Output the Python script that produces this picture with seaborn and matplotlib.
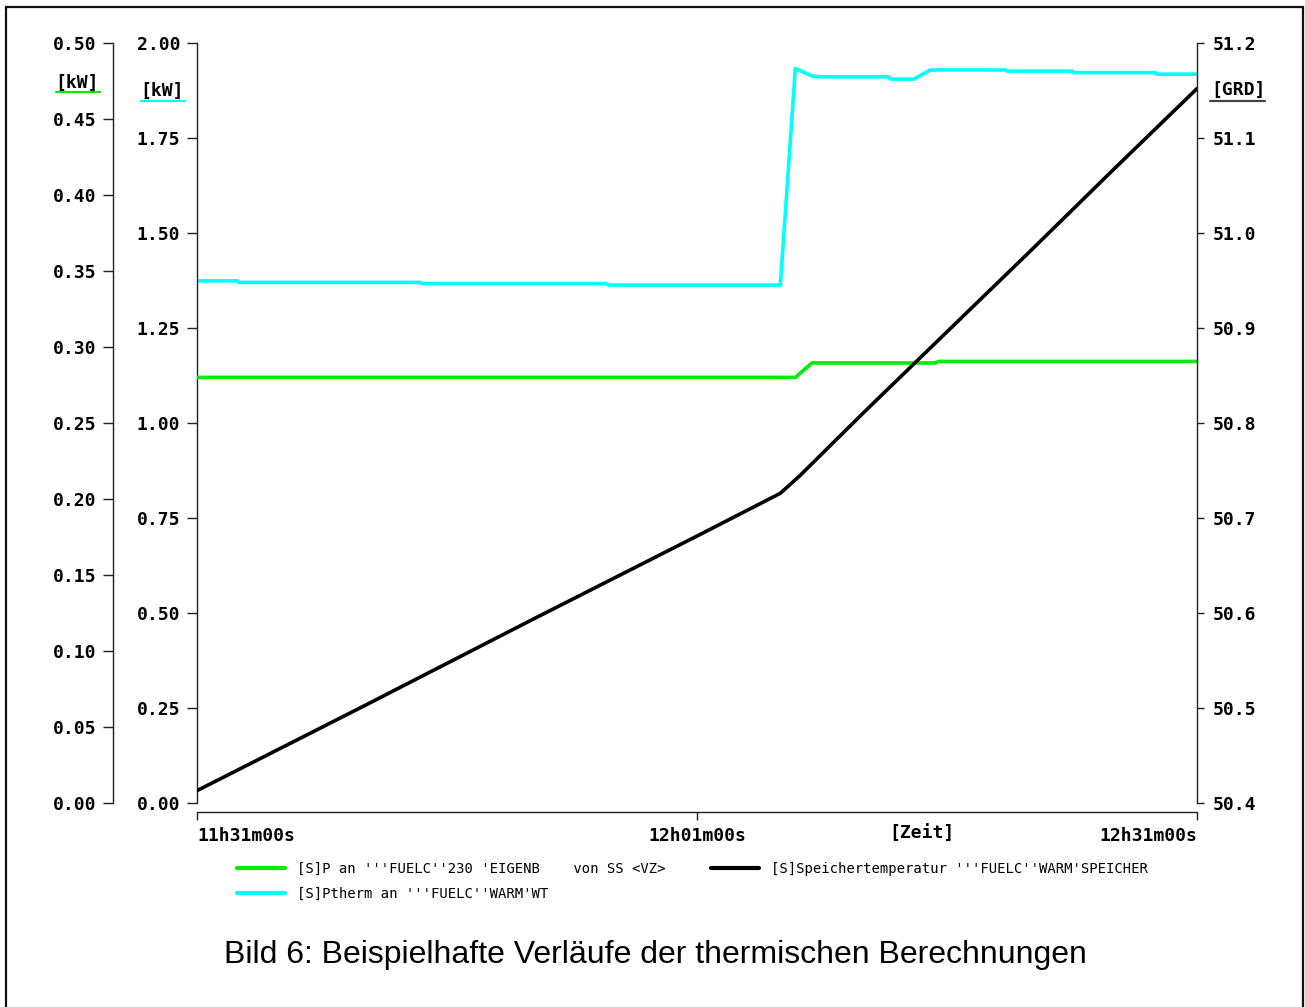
import numpy as np
import pandas as pd
import matplotlib
matplotlib.use("Agg")
import matplotlib.pyplot as plt
import seaborn as sns
from matplotlib.lines import Line2D
from matplotlib.patches import Rectangle
from matplotlib.font_manager import FontProperties

# ---------------- data (minutes after 11h31m00s) ----------------
minutes_green = [0, 35.9, 36.9, 44.3, 44.5, 60]
p_el = [0.280, 0.280, 0.2895, 0.2895, 0.2905, 0.2905]

minutes_cyan = [0, 2.4, 2.5, 13.4, 13.5, 24.6, 24.7, 35.0, 35.9, 36.9, 37.5,
                41.5, 41.6, 43.0, 44.0, 48.5, 48.6, 52.5, 52.6, 57.5, 57.6, 60]
p_th = [1.374, 1.374, 1.370, 1.370, 1.367, 1.367, 1.363, 1.363, 1.933, 1.913, 1.911,
        1.911, 1.905, 1.905, 1.929, 1.929, 1.926, 1.926, 1.922, 1.922, 1.918, 1.918]

minutes_temp = [0, 10, 20, 30, 35, 36.2, 40, 45, 50, 55, 60]
temp = [50.413, 50.502, 50.592, 50.681, 50.726, 50.745, 50.811, 50.896, 50.981, 51.067, 51.152]

x_ticks = [0, 30, 60]
x_ticklabels = ["11h31m00s", "12h01m00s", "12h31m00s"]
green_ticks = [0.00, 0.05, 0.10, 0.15, 0.20, 0.25, 0.30, 0.35, 0.40, 0.45, 0.50]
cyan_ticks = [0.00, 0.25, 0.50, 0.75, 1.00, 1.25, 1.50, 1.75, 2.00]
temp_ticks = [50.4, 50.5, 50.6, 50.7, 50.8, 50.9, 51.0, 51.1, 51.2]

lbl_green = "[S]P an '''FUELC''230 'EIGENB    von SS <VZ>"
lbl_cyan = "[S]Ptherm an '''FUELC''WARM'WT"
lbl_black = "[S]Speichertemperatur '''FUELC''WARM'SPEICHER"
caption = "Bild 6: Beispielhafte Verläufe der thermischen Berechnungen"

C_GREEN = "#00ee00"
C_CYAN = "#00ffff"
C_BLACK = "#000000"
MONO = "DejaVu Sans Mono"

sns.set_style("ticks")
plt.rcParams["font.family"] = ["DejaVu Sans"]
plt.rcParams["text.color"] = "black"

W, H = 1305, 1007
fig = plt.figure(figsize=(W / 100, H / 100), dpi=100)
fig.patch.set_facecolor("white")

ax = fig.add_axes([197 / W, 1 - 803 / H, 1000 / W, 760 / H])
ax_g = ax.twinx()
ax_r = ax.twinx()

df_c = pd.DataFrame({"t": minutes_cyan, "v": p_th})
df_g = pd.DataFrame({"t": minutes_green, "v": p_el})
df_t = pd.DataFrame({"t": minutes_temp, "v": temp})

sns.lineplot(data=df_c, x="t", y="v", ax=ax, color=C_CYAN, lw=2.6, legend=False)
sns.lineplot(data=df_g, x="t", y="v", ax=ax_g, color=C_GREEN, lw=2.6, legend=False)
sns.lineplot(data=df_t, x="t", y="v", ax=ax_r, color=C_BLACK, lw=2.6, legend=False)

tick_font = dict(family=MONO, weight="bold", size=13, color="black")

# inner left axis (cyan, ax)
ax.set_xlim(0, 60)
ax.set_ylim(0, 2.0)
ax.set_xlabel("")
ax.set_ylabel("")
for s in ["top", "right"]:
    ax.spines[s].set_visible(False)
ax.spines["bottom"].set_position(("outward", 6.5))
ax.spines["left"].set_linewidth(1.0)
ax.spines["bottom"].set_linewidth(1.0)
ax.spines["left"].set_color("#222222")
ax.spines["bottom"].set_color("#222222")
ax.set_yticks(cyan_ticks)
ax.set_yticklabels([f"{v:.2f}" for v in cyan_ticks], fontdict=tick_font)
ax.set_xticks(x_ticks)
ax.set_xticklabels(x_ticklabels, fontdict=tick_font)
ax.tick_params(axis="y", direction="out", length=7.5, width=1, pad=4.5, colors="#222222", labelcolor="black")
ax.tick_params(axis="x", direction="out", length=6, width=1, pad=5, colors="#222222", labelcolor="black")
xl = ax.get_xticklabels()
xl[0].set_ha("left")
xl[1].set_ha("center")
xl[2].set_ha("right")

# outer left axis (green)
ax_g.set_ylim(0, 0.5)
ax_g.set_xlim(0, 60)
ax_g.set_ylabel("")
ax_g.yaxis.set_ticks_position("left")
ax_g.yaxis.set_label_position("left")
for s in ["top", "right", "bottom"]:
    ax_g.spines[s].set_visible(False)
ax_g.spines["left"].set_visible(True)
ax_g.spines["left"].set_position(("outward", 60.5))
ax_g.spines["left"].set_color("#222222")
ax_g.spines["left"].set_linewidth(1.0)
ax_g.set_yticks(green_ticks)
ax_g.set_yticklabels([f"{v:.2f}" for v in green_ticks], fontdict=tick_font)
ax_g.tick_params(axis="y", direction="out", length=7.5, width=1, pad=4.5, colors="#222222", labelcolor="black")

# right axis (temperature)
ax_r.set_ylim(50.4, 51.2)
ax_r.set_xlim(0, 60)
ax_r.set_ylabel("")
for s in ["top", "left", "bottom"]:
    ax_r.spines[s].set_visible(False)
ax_r.spines["right"].set_color("#222222")
ax_r.spines["right"].set_linewidth(1.0)
ax_r.set_yticks(temp_ticks)
ax_r.set_yticklabels([f"{v:.1f}" for v in temp_ticks], fontdict=tick_font)
ax_r.tick_params(axis="y", direction="out", length=5, width=1, pad=6, colors="#222222", labelcolor="black")

for a in (ax, ax_g, ax_r):
    a.patch.set_visible(False)
    a.grid(False)

# unit labels with coloured underline
def unit(text, xc, yc, x0, x1, yl, col):
    fig.text(xc / W, 1 - yc / H, text, ha="center", va="center", **tick_font)
    fig.add_artist(Line2D([x0 / W, x1 / W], [1 - yl / H, 1 - yl / H],
                          transform=fig.transFigure, color=col, lw=1.6))

unit("[kW]", 77, 83, 56, 100, 92, C_GREEN)
unit("[kW]", 162, 91, 141, 185, 101, C_CYAN)
unit("[GRD]", 1238, 90, 1210, 1265, 100.5, "#444444")
fig.text(922 / W, 1 - 834 / H, "[Zeit]", ha="center", va="center", **tick_font)

# legend
handles = [Line2D([], [], color=C_GREEN, lw=3),
           Line2D([], [], color=C_CYAN, lw=3),
           Line2D([], [], color=C_BLACK, lw=3)]
leg = fig.legend(handles, [lbl_green, lbl_cyan, lbl_black], ncol=2, loc="upper left",
                 bbox_to_anchor=(237 / W, 1 - 862 / H), frameon=False,
                 prop=FontProperties(family=MONO, size=10),
                 handlelength=3.45, handletextpad=0.86, columnspacing=3.3,
                 labelspacing=0.8, borderpad=0, borderaxespad=0)
for t in leg.get_texts():
    t.set_color("black")

# caption
fig.text(655 / W, 1 - 955 / H, caption, ha="center", va="center",
         family="Liberation Sans", size=23, color="black")

# outer frame
fig.add_artist(Rectangle((6 / W, -0.05), 1297 / W, 1.05 - 7 / H,
                         transform=fig.transFigure, fill=False,
                         edgecolor="#111111", lw=1.6))

fig.savefig("out.png", dpi=100, facecolor="white")
